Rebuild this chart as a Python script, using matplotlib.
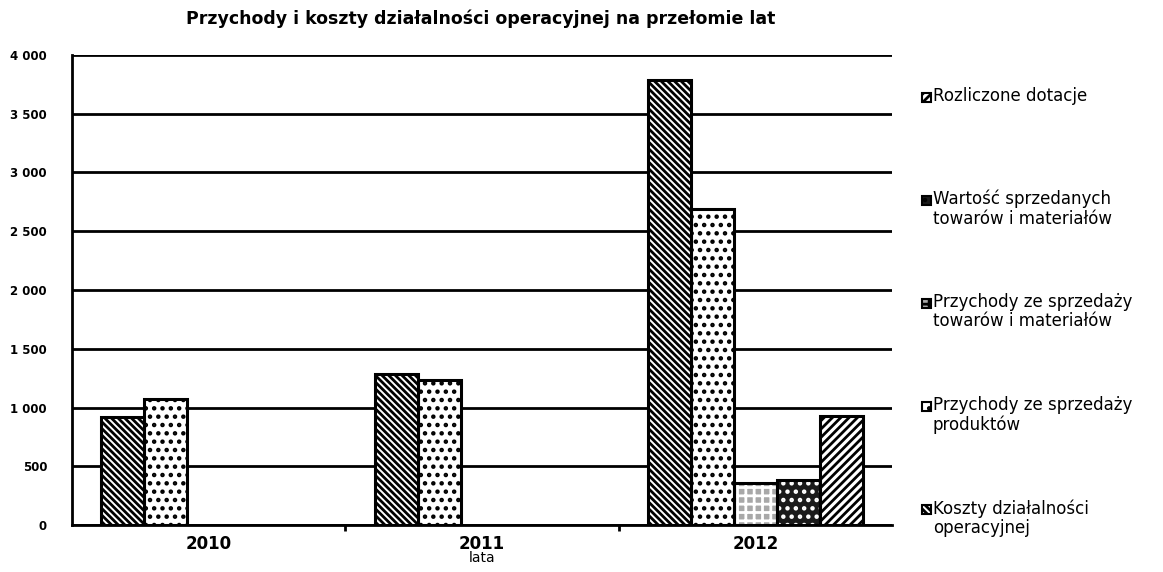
import numpy as np
import matplotlib.pyplot as plt
from matplotlib.patches import Rectangle

# dane
lata = ['2010', '2011', '2012']
koszty = [920, 1285, 3787]            # Koszty działalności operacyjnej
przych_produkty = [1070, 1235, 2690]  # Przychody ze sprzedaży produktów
przych_towary = [0, 0, 357]           # Przychody ze sprzedaży towarów i materiałów
wartosc_towary = [0, 0, 383]          # Wartość sprzedanych towarów i materiałów
dotacje = [0, 0, 928]                 # Rozliczone dotacje

seria = [koszty, przych_produkty, przych_towary, wartosc_towary, dotacje]
nazwy = ['Koszty działalności\noperacyjnej',
         'Przychody ze sprzedaży\nproduktów',
         'Przychody ze sprzedaży\ntowarów i materiałów',
         'Wartość sprzedanych\ntowarów i materiałów',
         'Rozliczone dotacje']
# (tło, kolor wzoru, wzór)
style = [('white', 'black', '\\\\\\\\\\'),
         ('white', 'black', '..'),
         ('#a8a8a8', 'white', '++'),
         ('#1a1a1a', 'white', '..'),
         ('white', 'black', '////')]
y_labels = ['0', '500', '1 000', '1 500', '2 000', '2 500', '3 000', '3 500', '4 000']

plt.rcParams['font.family'] = ['DejaVu Sans']
plt.rcParams['hatch.linewidth'] = 2.0

fig = plt.figure(figsize=(11.63, 5.72), dpi=100)
ax = fig.add_axes([0.062, 0.082, 0.705, 0.822])

x = np.arange(len(lata))
w = 0.157
for i, (vals, (fc, hc, h)) in enumerate(zip(seria, style)):
    pos = x + (i - 2) * w
    vals = np.array(vals)
    mask = vals > 0
    # wypełnienie z wzorem
    ax.bar(pos[mask], vals[mask], width=w, facecolor=fc, edgecolor=hc,
           hatch=h, linewidth=0, zorder=3)
    # obramowanie
    ax.bar(pos[mask], vals[mask], width=w, facecolor='none', edgecolor='black',
           linewidth=2.2, zorder=4)

ax.set_xlim(-0.5, 2.5)
ax.set_ylim(0, 4000)
ax.set_yticks(np.arange(0, 4001, 500))
ax.set_yticklabels(y_labels, fontsize=8.5, fontweight='bold')
ax.set_xticks(x)
ax.set_xticklabels(lata, fontsize=12, fontweight='bold')
ax.set_xticks([0.5, 1.5], minor=True)
ax.tick_params(axis='x', which='major', length=0, pad=7)
ax.tick_params(axis='x', which='minor', length=4, width=2, direction='out')
ax.tick_params(axis='y', length=0, pad=18)
ax.yaxis.grid(True, color='black', linewidth=2, zorder=0)
ax.set_axisbelow(True)
for s in ['top', 'right']:
    ax.spines[s].set_visible(False)
ax.spines['left'].set_linewidth(2)
ax.spines['bottom'].set_linewidth(2)
ax.set_xlabel('lata', fontsize=10, labelpad=-1)

fig.text(0.413, 0.967, 'Przychody i koszty działalności operacyjnej na przełomie lat',
         ha='center', va='center', fontsize=12.5, fontweight='bold')

# legenda - wpisy rozłożone równo jak w Excelu
W, H = 1163, 572
for k, i in enumerate(range(len(seria) - 1, -1, -1)):
    fc, hc, h = style[i]
    yc = 97 + k * 103
    fig.patches.append(Rectangle((922 / W, 1 - (yc + 5) / H), 9 / W, 9 / H,
                                 transform=fig.transFigure, facecolor=fc,
                                 edgecolor='black', hatch=h, linewidth=1.5))
    fig.text(933 / W, 1 - (yc - 10) / H, nazwy[i], ha='left', va='top',
             fontsize=12, linespacing=1.1)

fig.savefig('out.png', dpi=100)
